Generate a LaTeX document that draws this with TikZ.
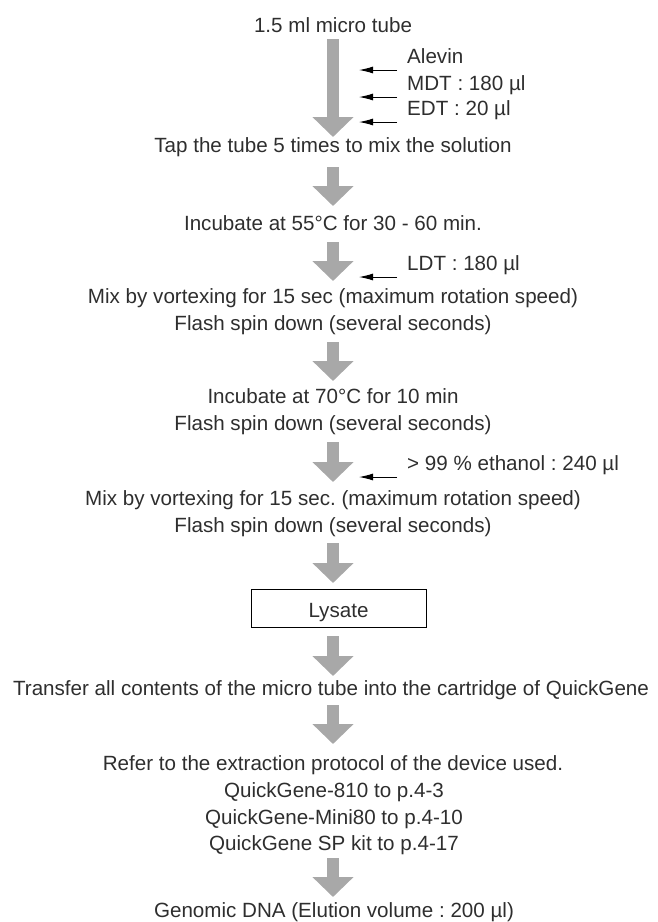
\documentclass[tikz,border=0pt]{standalone}
\usepackage{fontspec}
\setmainfont{Liberation Sans}
\usetikzlibrary{arrows.meta}
\definecolor{txt}{HTML}{2E2E2E}
\definecolor{flowgray}{HTML}{A8A8A8}
\frenchspacing
\begin{document}
\begin{tikzpicture}[x=1pt,y=-1pt,
  lbl/.style={inner sep=0pt,anchor=base,text=txt,font=\fontsize{20.6}{27}\selectfont},
  side/.style={inner sep=0pt,anchor=base west,text=txt,font=\fontsize{20.6}{27}\selectfont},
  flow/.style={draw=flowgray,line width=12pt,-{Triangle[length=20pt,width=40pt,fill=flowgray]}},
  feed/.style={draw=black,line width=1pt,-{Latex[length=14pt,width=7pt]}},
  boxed/.style={draw=black,line width=0.9pt,minimum width=175pt,minimum height=38pt,
    inner sep=0pt,text height=18pt,text depth=0pt,text=txt,font=\fontsize{20.6}{27}\selectfont}]
\useasboundingbox (0,0) rectangle (657,922);

% step texts (base line positions)
\node[lbl] (tube)  at (333,32)  {1.5 ml micro tube};
\node[lbl] (tap)   at (333,152) {Tap the tube 5 times to mix the solution};
\node[lbl] (inc55) at (333,230) {Incubate at 55°C for 30 - 60 min.};
\node[lbl] (mixA)  at (333,303) {Mix by vortexing for 15 sec (maximum rotation speed)};
\node[lbl] (spinA) at (333,330) {Flash spin down (several seconds)};
\node[lbl] (inc70) at (333,403) {Incubate at 70°C for 10 min};
\node[lbl] (spinB) at (333,430) {Flash spin down (several seconds)};
\node[lbl] (mixB)  at (333,505) {Mix by vortexing for 15 sec. (maximum rotation speed)};
\node[lbl] (spinC) at (333,532) {Flash spin down (several seconds)};
\node[boxed] (lys) at (338.5,608) {Lysate};
\node[lbl] (trans) at (331,695) {Transfer all contents of the micro tube into the cartridge of QuickGene};
\node[lbl] (refer) at (333,770) {Refer to the extraction protocol of the device used.};
\node[lbl] (q810)  at (334,797) {QuickGene-810 to p.4-3};
\node[lbl] (qmini) at (334,824) {QuickGene-Mini80 to p.4-10};
\node[lbl] (qsp)   at (334,850) {QuickGene SP kit to p.4-17};
\node[lbl] (dna)   at (334,917) {Genomic DNA (Elution volume : 200 µl)};

% reagents added from the side
\node[side] (alevin) at (407,63)  {Alevin};
\node[side] (mdt)    at (407,90)  {MDT : 180 µl};
\node[side] (edt)    at (407,115) {EDT : 20 µl};
\node[side] (ldt)    at (407,270) {LDT : 180 µl};
\node[side] (etoh)   at (407,470) {> 99 \% ethanol : 240 µl};

% big flow arrows
\coordinate (f1a) at (333,39);  \coordinate (f1b) at (333,137);
\coordinate (f2a) at (333,167); \coordinate (f2b) at (333,206);
\coordinate (f3a) at (333,242); \coordinate (f3b) at (333,281);
\coordinate (f4a) at (333,342); \coordinate (f4b) at (333,381);
\coordinate (f5a) at (333,442); \coordinate (f5b) at (333,482);
\coordinate (f6a) at (333,543); \coordinate (f6b) at (333,583);
\coordinate (f7a) at (333,636); \coordinate (f7b) at (333,676);
\coordinate (f8a) at (333,705); \coordinate (f8b) at (333,744);
\coordinate (f9a) at (333,858); \coordinate (f9b) at (333,897);
\foreach \i in {1,...,9} \draw[flow] (f\i a) -- (f\i b);

% feed arrows pointing at the flow
\foreach \n in {alevin,mdt,edt,ldt,etoh}
  \draw[feed] ([xshift=-10pt,yshift=-7pt]\n.base west) -- ([xshift=-48pt,yshift=-7pt]\n.base west);
\end{tikzpicture}
\end{document}
